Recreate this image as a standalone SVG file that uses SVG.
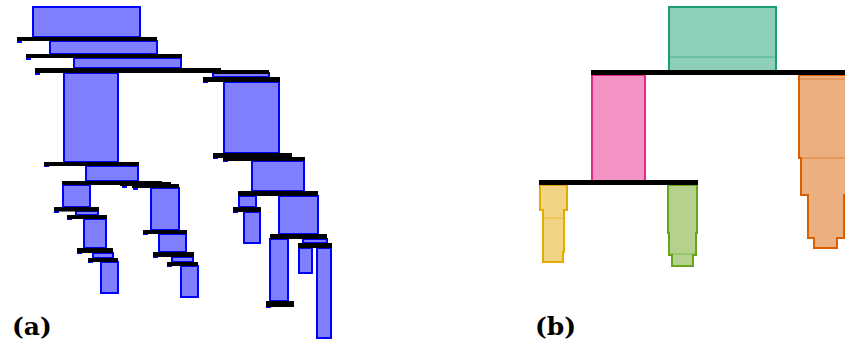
<svg xmlns="http://www.w3.org/2000/svg" width="845" height="347" viewBox="0 0 845 347">
<style>
.n{fill:#8080ff;stroke:#0000ff;stroke-width:2}
.bar{fill:#000}
.tick{fill:#0000ff}
.lbl{font-family:"DejaVu Serif",serif;font-weight:bold;font-size:25px;fill:#000}
.inner{fill:none;stroke-width:1;opacity:0.6}
</style>
<rect width="845" height="347" fill="#fff"/>
<g id="panel-a">
<g id="a1"><rect class="n" x="33" y="7" width="107" height="30"/></g>
<g id="a2"><rect class="n" x="50" y="41" width="107" height="13"/></g>
<g id="a3"><rect class="n" x="74" y="58" width="107" height="10"/></g>
<g id="a4"><rect class="n" x="213" y="73" width="56" height="4"/></g>
<g id="a5"><rect class="n" x="64" y="73" width="54" height="89"/></g>
<g id="a6"><rect class="n" x="224" y="82" width="55" height="71"/></g>
<g id="a7"><rect class="n" x="86" y="166" width="52" height="15"/></g>
<g id="a8"><rect class="n" x="63" y="185" width="27" height="22"/></g>
<g id="a9"><rect class="n" x="151" y="188" width="28" height="42"/></g>
<g id="a10"><rect class="n" x="76" y="211" width="22" height="4"/></g>
<g id="a11"><rect class="n" x="84" y="219" width="22" height="29"/></g>
<g id="a12"><rect class="n" x="93" y="253" width="20" height="5"/></g>
<g id="a13"><rect class="n" x="101" y="262" width="17" height="31"/></g>
<g id="a14"><rect class="n" x="159" y="234" width="27" height="18"/></g>
<g id="a15"><rect class="n" x="172" y="257" width="21" height="5"/></g>
<g id="a16"><rect class="n" x="181" y="266" width="17" height="31"/></g>
<g id="a17"><rect class="n" x="252" y="161" width="52" height="30"/></g>
<g id="a18"><rect class="n" x="239" y="196" width="17" height="11"/></g>
<g id="a19"><rect class="n" x="244" y="212" width="16" height="31"/></g>
<g id="a20"><rect class="n" x="279" y="196" width="39" height="38"/></g>
<g id="a21"><rect class="n" x="270" y="239" width="18" height="62"/></g>
<g id="a22"><rect class="n" x="303" y="239" width="24" height="4"/></g>
<g id="a23"><rect class="n" x="299" y="248" width="13" height="25"/></g>
<g id="a24"><rect class="n" x="317" y="248" width="14" height="90"/></g>
</g>
<g id="panel-b">
<g id="b-green">
<rect x="669" y="7" width="107" height="64" fill="#8ecfb9" stroke="#1b9e77" stroke-width="2"/>
<line class="inner" x1="669" y1="57" x2="776" y2="57" stroke="#1b9e77"/>
</g>
<g id="b-pink"><rect x="592" y="75" width="53" height="106" fill="#f394c4" stroke="#e7298a" stroke-width="2"/></g>
<g id="b-orange">
<path d="M799,75 H850 V195 H844 V238 H837 V248 H814 V238 H808 V195 H801 V158 H799 Z" fill="#ecaf80" stroke="#d95f02" stroke-width="2"/>
<line class="inner" x1="799" y1="79" x2="845" y2="79" stroke="#d95f02"/>
<line class="inner" x1="799" y1="158" x2="845" y2="158" stroke="#d95f02"/>
</g>
<g id="b-yellow">
<path d="M540,185 H567 V210 H564 V252 H563 V262 H543 V252 V210 H540 Z" fill="#f0d484" stroke="#e6ab02" stroke-width="2"/>
<line class="inner" x1="543" y1="218" x2="564" y2="218" stroke="#e6ab02"/>
</g>
<g id="b-lime">
<path d="M668,185 H697 V233 H696 V255 H693 V266 H672 V255 H669 V233 H668 Z" fill="#b4d28e" stroke="#66a61e" stroke-width="2"/>
<line class="inner" x1="669" y1="254" x2="696" y2="254" stroke="#66a61e"/>
</g>
</g>
<g id="connectors">
<rect class="tick" x="17" y="40" width="5" height="3"/>
<rect class="bar" x="17" y="37" width="140" height="4"/>
<rect class="tick" x="26" y="57" width="5" height="3"/>
<rect class="bar" x="26" y="54" width="156" height="4"/>
<rect class="bar" x="213" y="70" width="56" height="4"/>
<rect class="tick" x="35" y="72" width="5" height="3"/>
<rect class="bar" x="35" y="68" width="186" height="5"/>
<rect class="tick" x="203" y="81" width="5" height="2"/>
<rect class="bar" x="203" y="77" width="77" height="5"/>
<rect class="tick" x="44" y="165" width="5" height="2"/>
<rect class="bar" x="44" y="162" width="95" height="4"/>
<rect class="tick" x="122" y="185" width="5" height="3"/>
<rect class="tick" x="133" y="187" width="5" height="3"/>
<rect class="bar" x="62" y="181" width="100" height="4"/>
<rect class="bar" x="120" y="182" width="51" height="4"/>
<rect class="bar" x="132" y="184" width="47" height="4"/>
<rect class="tick" x="54" y="210" width="5" height="3"/>
<rect class="bar" x="54" y="207" width="45" height="4.5"/>
<rect class="tick" x="67" y="218" width="5" height="2"/>
<rect class="bar" x="67" y="215" width="40" height="4"/>
<rect class="tick" x="77" y="252" width="5" height="2"/>
<rect class="bar" x="77" y="248" width="36" height="5"/>
<rect class="tick" x="88" y="261" width="5" height="2"/>
<rect class="bar" x="88" y="258" width="30" height="4"/>
<rect class="tick" x="143" y="233" width="5" height="2"/>
<rect class="bar" x="143" y="230" width="44" height="4"/>
<rect class="tick" x="153" y="256" width="5" height="2"/>
<rect class="bar" x="153" y="252" width="41" height="5"/>
<rect class="tick" x="167" y="265" width="5" height="2"/>
<rect class="bar" x="167" y="262" width="31" height="4"/>
<rect class="tick" x="213" y="157" width="5" height="2"/>
<rect class="tick" x="223" y="160" width="5" height="2"/>
<rect class="bar" x="213" y="153" width="79" height="5"/>
<rect class="bar" x="223" y="157" width="82" height="4"/>
<rect class="bar" x="238" y="191" width="80" height="5"/>
<rect class="tick" x="233" y="211" width="5" height="2"/>
<rect class="bar" x="233" y="207" width="28" height="5"/>
<rect class="bar" x="270" y="234" width="57" height="5"/>
<rect class="tick" x="266" y="306" width="5" height="2"/>
<rect class="bar" x="266" y="301" width="28" height="6"/>
<rect class="bar" x="298" y="243" width="34" height="5"/>
<rect class="bar" x="591" y="70" width="254" height="5"/>
<rect class="bar" x="539" y="180" width="159" height="5"/>
</g>
<text class="lbl" x="12" y="335">(a)</text>
<text class="lbl" x="535" y="335">(b)</text>
</svg>
